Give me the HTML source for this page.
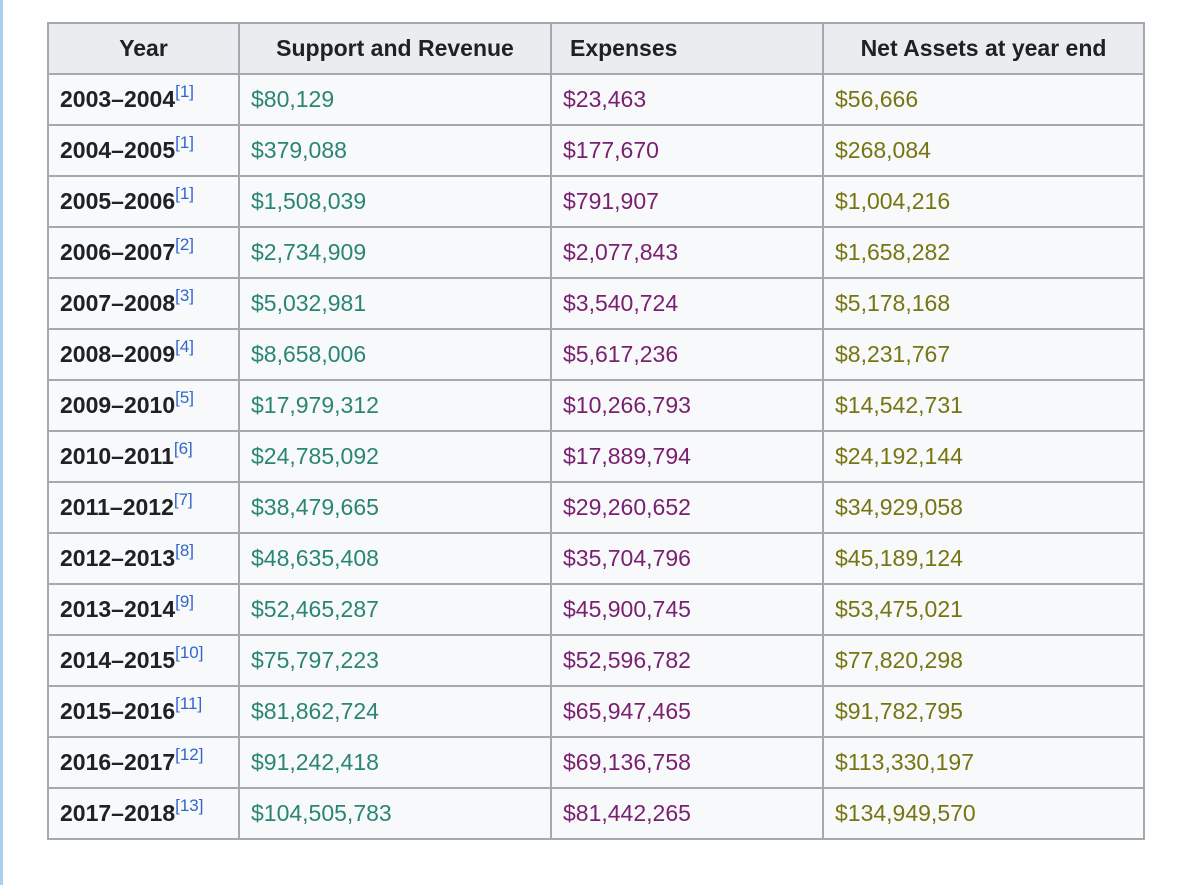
<!DOCTYPE html>
<html><head><meta charset="utf-8">
<style>
html,body{margin:0;padding:0;background:#fff;width:1200px;height:885px;overflow:hidden;font-family:"Liberation Sans",Arial,sans-serif;}
.bar{position:absolute;left:0;top:0;width:3px;height:885px;background:#a8d1f0;}
table{position:absolute;left:47px;top:22px;border-collapse:collapse;table-layout:fixed;width:1096px;background:#f8f9fa;}
tr{height:51px;}
td,th{border:2px solid #a2a9b1;padding:0 0 0 11px;font-size:23px;text-align:left;white-space:nowrap;box-sizing:border-box;}
th{background:#eaecf0;color:#202122;text-align:center;padding:0;}
td.y{font-weight:bold;color:#202122;padding-left:11px;}
sup{font-weight:normal;color:#3366cc;font-size:17px;vertical-align:10px;line-height:0;}
.r{color:#2a8574;}
.e{color:#7a2071;}
.n{color:#767512;}
</style></head><body>
<div class="bar"></div>
<table>
<colgroup><col style="width:191px"><col style="width:312px"><col style="width:272px"><col style="width:321px"></colgroup>
<tr><th>Year</th><th>Support and Revenue</th><th style="text-align:left;padding-left:18px">Expenses</th><th>Net Assets at year end</th></tr>
<tbody id="tb"></tbody>
</table>
<script>
const years=["2003–2004","2004–2005","2005–2006","2006–2007","2007–2008","2008–2009","2009–2010","2010–2011","2011–2012","2012–2013","2013–2014","2014–2015","2015–2016","2016–2017","2017–2018"];
const refs=[1,1,1,2,3,4,5,6,7,8,9,10,11,12,13];
const revenue=["$80,129","$379,088","$1,508,039","$2,734,909","$5,032,981","$8,658,006","$17,979,312","$24,785,092","$38,479,665","$48,635,408","$52,465,287","$75,797,223","$81,862,724","$91,242,418","$104,505,783"];
const expenses=["$23,463","$177,670","$791,907","$2,077,843","$3,540,724","$5,617,236","$10,266,793","$17,889,794","$29,260,652","$35,704,796","$45,900,745","$52,596,782","$65,947,465","$69,136,758","$81,442,265"];
const netAssets=["$56,666","$268,084","$1,004,216","$1,658,282","$5,178,168","$8,231,767","$14,542,731","$24,192,144","$34,929,058","$45,189,124","$53,475,021","$77,820,298","$91,782,795","$113,330,197","$134,949,570"];
const tb=document.getElementById('tb');
years.forEach((y,i)=>{
  const tr=document.createElement('tr');
  
  
  const c1=document.createElement('td');c1.className='y';
  
  
  c1.innerHTML=y+'<sup>['+refs[i]+']</sup>';
  const c2=document.createElement('td');c2.className='r';c2.textContent=revenue[i];
  
  
  const c3=document.createElement('td');c3.className='e';c3.textContent=expenses[i];
  
  
  const c4=document.createElement('td');c4.className='n';c4.textContent=netAssets[i];
  
  
  tr.append(c1,c2,c3,c4);tb.appendChild(tr);
});
</script>
</body></html>
